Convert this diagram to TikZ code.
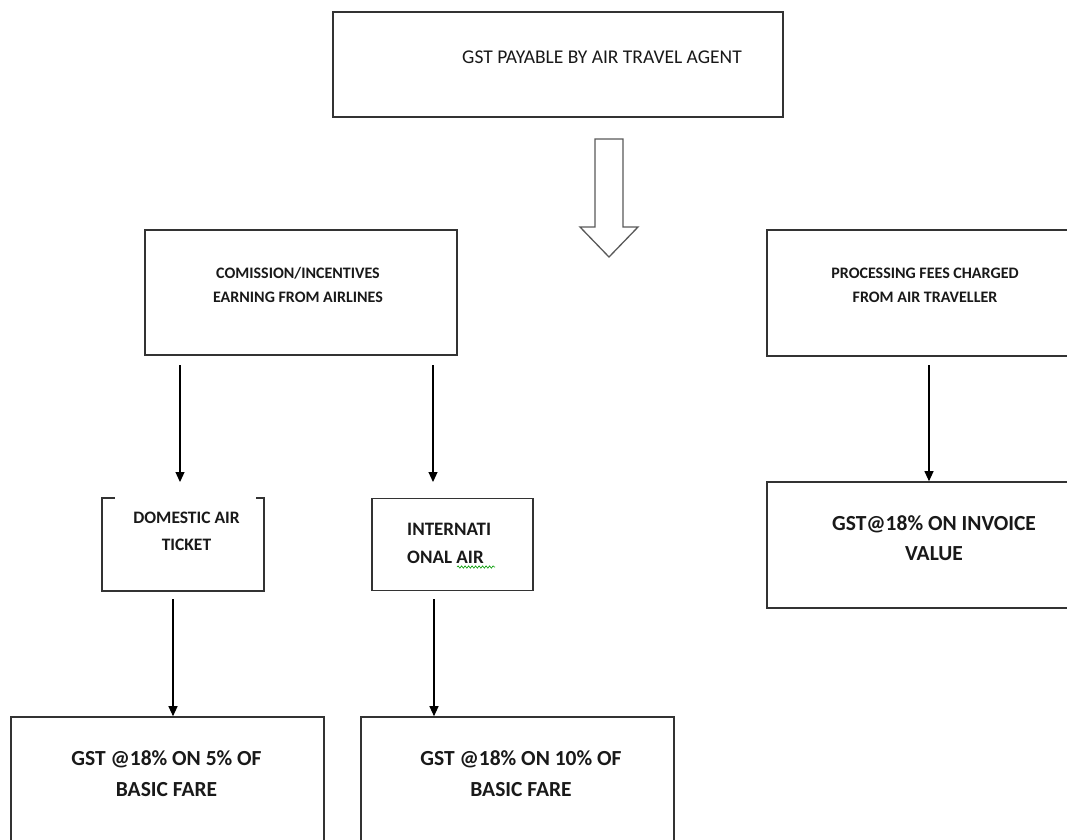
\documentclass[tikz,border=0pt]{standalone}
\usepackage{fontspec}
\setmainfont{Carlito}
\usetikzlibrary{arrows.meta,decorations.pathmorphing}
\tikzset{
  box/.style={draw=black!80, line width=1.6pt, rectangle, inner sep=0pt},
  openbox/.style={draw=none, rectangle, inner sep=0pt},
  lbl/.style={inner sep=0pt, align=center, text=black!90},
  arr/.style={draw=black, line width=1.1pt, -{Triangle[length=10pt,width=9pt]}},
  hollow/.style={draw=black!65, line width=1.3pt, fill=white}
}
\begin{document}
\begin{tikzpicture}[x=1pt,y=-1pt]
\useasboundingbox (0,0) rectangle (1067,839);
\clip (0,0) rectangle (1067,839);
% boxes
\node[box, minimum width=450pt, minimum height=105pt] (top) at (558,64.5) {};
\node[box, minimum width=312pt, minimum height=125pt] (comm) at (301,292.5) {};
\node[box, minimum width=310pt, minimum height=126pt] (proc) at (922,293) {};
\node[openbox, minimum width=162pt, minimum height=93pt] (dom) at (183,544.5) {};
\node[box, minimum width=161pt, minimum height=92pt] (intl) at (452.5,544.5) {};
\node[box, minimum width=310pt, minimum height=126pt] (inv) at (922,545) {};
\node[box, minimum width=313pt, minimum height=140pt] (b1) at (167.5,787) {};
\node[box, minimum width=313pt, minimum height=140pt] (b2) at (517.5,787) {};
% domestic box with open top
\draw[black!80, line width=1.6pt] ([xshift=13pt]dom.north west) -- (dom.north west) -- (dom.south west) -- (dom.south east) -- (dom.north east) -- ([xshift=-8pt]dom.north east);
% labels
\node[lbl, font=\fontsize{19.5}{24}\selectfont] (ttop) at (602,57) {GST PAYABLE BY AIR TRAVEL AGENT};
\node[lbl, font=\bfseries\fontsize{16}{24}\selectfont] (tcomm) at (298,285) {COMISSION/INCENTIVES\\EARNING FROM AIRLINES};
\node[lbl, font=\bfseries\fontsize{16}{24}\selectfont] (tproc) at (925,285) {PROCESSING FEES CHARGED\\FROM AIR TRAVELLER};
\node[lbl, font=\bfseries\fontsize{17.5}{27}\selectfont] (tdom) at (186.5,531) {DOMESTIC AIR\\TICKET};
\node[lbl, align=left, anchor=west, font=\bfseries\fontsize{19}{28}\selectfont] (tintl) at (407,543) {INTERNATI\\ONAL AIR};
\node[lbl, font=\bfseries\fontsize{21.5}{30}\selectfont] (tinv) at (934,538) {GST@18\% ON INVOICE\\VALUE};
\node[lbl, font=\bfseries\fontsize{21.5}{31}\selectfont] (tb1) at (166.5,773.5) {GST @18\% ON 5\% OF\\BASIC FARE};
\node[lbl, font=\bfseries\fontsize{21.5}{31}\selectfont] (tb2) at (521,773.5) {GST @18\% ON 10\% OF\\BASIC FARE};
% spellcheck squiggle
\coordinate (sq1) at (457,567);
\coordinate (sq2) at (495,567);
\draw[green!60!black, line width=0.6pt, decorate, decoration={snake, segment length=3.5pt, amplitude=1.2pt}] (sq1) -- (sq2);
% hollow block arrow
\draw[hollow] (595,139) -- (623,139) -- (623,227) -- (638,227) -- (609,257) -- (580,227) -- (595,227) -- cycle;
% connectors
\coordinate (a1s) at (180,365); \coordinate (a1e) at (180,482);
\coordinate (a2s) at (433,365); \coordinate (a2e) at (433,482);
\coordinate (a3s) at (929,365);
\coordinate (a4s) at (173,599);
\coordinate (a5s) at (434,599);
\draw[arr] (a1s) -- (a1e);
\draw[arr] (a2s) -- (a2e);
\draw[arr] (a3s) -- (a3s |- inv.north);
\draw[arr] (a4s) -- (a4s |- b1.north);
\draw[arr] (a5s) -- (a5s |- b2.north);
\end{tikzpicture}
\end{document}
